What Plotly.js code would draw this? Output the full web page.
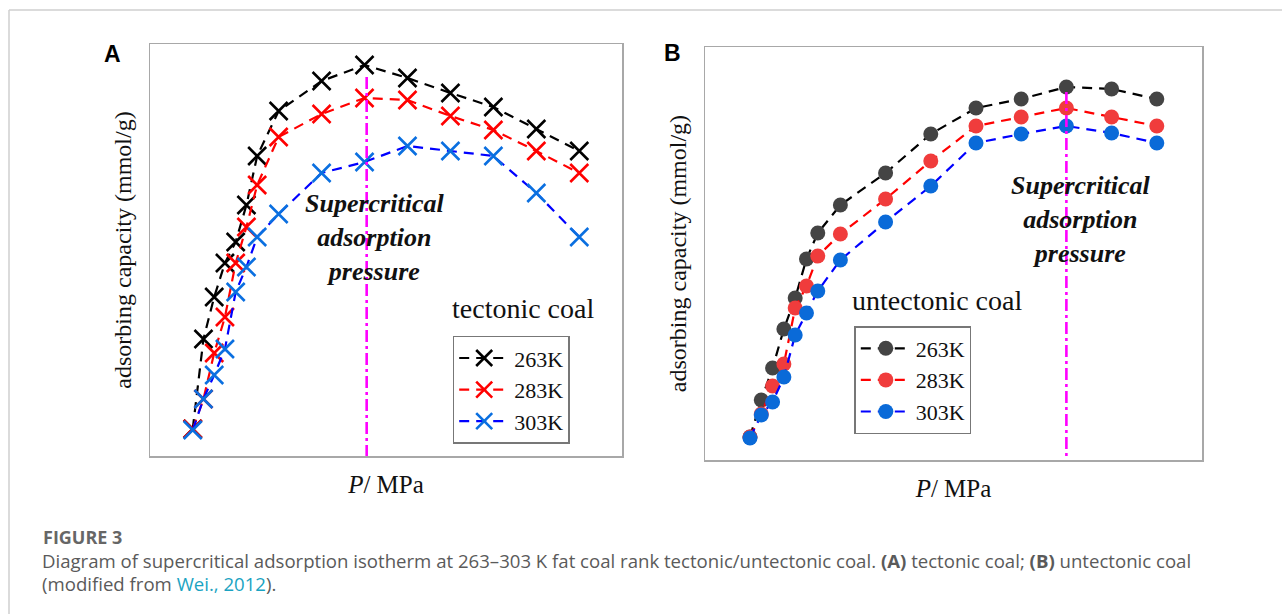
<!DOCTYPE html>
<html>
<head>
<meta charset="utf-8">
<script src="https://cdn.plot.ly/plotly-3.0.1.min.js"></script>
<style>html,body{margin:0;padding:0;background:#fff;}#chart{width:1282px;height:614px;}</style>
</head>
<body>
<div id="chart"></div>
<script>
// Pressure (MPa)
const pressure = [0.5, 1, 1.5, 2, 2.5, 3, 3.5, 4.5, 6.5, 8.5, 10.5, 12.5, 14.5, 16.5, 18.5];
const seriesNames = ['263K', '283K', '303K'];
// (A) tectonic coal, adsorbing capacity (mmol/g)
const tectonic263 = [0.27, 1.17, 1.59, 1.93, 2.14, 2.51, 3.00, 3.45, 3.75, 3.91, 3.78, 3.63, 3.49, 3.27, 3.05];
const tectonic283 = [0.27, 0.57, 1.03, 1.39, 1.93, 2.29, 2.71, 3.19, 3.42, 3.58, 3.56, 3.40, 3.26, 3.05, 2.83];
const tectonic303 = [0.26, 0.57, 0.81, 1.07, 1.64, 1.89, 2.19, 2.42, 2.83, 2.94, 3.10, 3.05, 3.00, 2.63, 2.19];
// (B) untectonic coal
const untectonic263 = [0.23, 0.60, 0.92, 1.31, 1.62, 2.01, 2.27, 2.55, 2.87, 3.26, 3.52, 3.61, 3.73, 3.71, 3.61];
const untectonic283 = [0.23, 0.46, 0.74, 0.96, 1.52, 1.74, 2.04, 2.26, 2.61, 2.99, 3.34, 3.43, 3.52, 3.43, 3.34];
const untectonic303 = [0.22, 0.45, 0.58, 0.83, 1.25, 1.47, 1.69, 2.00, 2.38, 2.74, 3.17, 3.26, 3.34, 3.27, 3.17];
// supercritical adsorption pressure (MPa) and vertical extent of marker line
const supercriticalA = 8.6, supercriticalATop = 3.79;
const supercriticalB = 14.5, supercriticalBTop = 3.68;

const W = 1282, H = 614;
const px = v => v / W, py = v => 1 - v / H;
const serif = 'Liberation Serif, Times New Roman, serif';
const dashPat = '10px,7px';

const lineColors = ['#000000', '#ff0000', '#0000ff'];
const xColors = ['#000000', '#ff0000', '#0a6fe0'];
const dotColors = ['#444444', '#f03c3c', '#0a6ad8'];

const traces = [];
const aData = [tectonic263, tectonic283, tectonic303];
const bData = [untectonic263, untectonic283, untectonic303];
aData.forEach((ys, i) => {
  traces.push({
    x: pressure, y: ys, xaxis: 'x', yaxis: 'y', type: 'scatter', mode: 'lines+markers',
    name: seriesNames[i], legend: 'legend',
    line: {color: lineColors[i], width: 2.2, dash: dashPat},
    marker: {symbol: 'x-thin-open', size: 18, color: xColors[i], line: {color: xColors[i], width: 2.6}}
  });
});
bData.forEach((ys, i) => {
  traces.push({
    x: pressure, y: ys, xaxis: 'x2', yaxis: 'y2', type: 'scatter', mode: 'lines+markers',
    name: seriesNames[i], legend: 'legend2',
    line: {color: lineColors[i], width: 2.2, dash: dashPat},
    marker: {symbol: 'circle', size: 15, color: dotColors[i], line: {width: 0}}
  });
});
traces.push({x: [supercriticalA, supercriticalA], y: [supercriticalATop, 0], xaxis: 'x', yaxis: 'y',
  mode: 'lines', showlegend: false, line: {color: '#ff00ff', width: 2.6, dash: '12px,4px,3px,4px'}});
traces.push({x: [supercriticalB, supercriticalB], y: [supercriticalBTop, 0], xaxis: 'x2', yaxis: 'y2',
  mode: 'lines', showlegend: false, line: {color: '#ff00ff', width: 2.6, dash: '12px,4px,3px,4px'}});

const axBase = {showline: true, mirror: true, linecolor: '#a8a8a8', linewidth: 1.5, showgrid: false,
  zeroline: false, showticklabels: false, ticks: '', fixedrange: true};
const xTitle = {text: '<i>P</i>/ MPa', font: {family: serif, size: 25, color: '#111'}, standoff: 19};
const yTitle = {text: 'adsorbing capacity (mmol/g)', font: {family: serif, size: 24, color: '#111'}, standoff: 10};

const legBase = {bgcolor: '#ffffff', bordercolor: '#777', borderwidth: 1.5, xanchor: 'left', yanchor: 'top',
  font: {family: serif, size: 22, color: '#111'}, itemwidth: 50, tracegroupgap: 0};

const annBase = {xref: 'paper', yref: 'paper', showarrow: false, xanchor: 'center', yanchor: 'middle'};
const superText = '<b><i>Supercritical</i></b><br><b><i>adsorption</i></b><br><b><i>pressure</i></b>';
const capFont = 'Open Sans, Noto Sans, sans-serif';

const layout = {
  width: W, height: H, margin: {l: 0, r: 0, t: 0, b: 0}, paper_bgcolor: '#fff', plot_bgcolor: '#fff',
  showlegend: true,
  xaxis: Object.assign({}, axBase, {domain: [px(150), px(622)], range: [-1.49, 20.49], title: xTitle, anchor: 'y'}),
  yaxis: Object.assign({}, axBase, {domain: [py(456), py(44)], range: [0, 4.12], title: yTitle, anchor: 'x'}),
  xaxis2: Object.assign({}, axBase, {domain: [px(705), px(1202)], range: [-1.49, 20.5], title: xTitle, anchor: 'y2'}),
  yaxis2: Object.assign({}, axBase, {domain: [py(460), py(47)], range: [0, 4.13], title: yTitle, anchor: 'x2'}),
  legend: Object.assign({}, legBase, {x: px(452.7), y: py(335.7)}),
  legend2: Object.assign({}, legBase, {x: px(854.3), y: py(326)}),
  annotations: [
    Object.assign({}, annBase, {x: px(112.5), y: py(54), text: '<b>A</b>', font: {family: 'Liberation Sans, Arial, sans-serif', size: 23, color: '#000'}}),
    Object.assign({}, annBase, {x: px(672), y: py(53), text: '<b>B</b>', font: {family: 'Liberation Sans, Arial, sans-serif', size: 23, color: '#000'}}),
    Object.assign({}, annBase, {x: px(374.5), y: py(237.7), text: superText, font: {family: serif, size: 26, color: '#111'}}),
    Object.assign({}, annBase, {x: px(1080.5), y: py(219.7), text: superText, font: {family: serif, size: 26, color: '#111'}}),
    Object.assign({}, annBase, {x: px(523), y: py(308), text: 'tectonic coal', font: {family: serif, size: 28, color: '#111'}}),
    Object.assign({}, annBase, {x: px(936.7), y: py(300), text: 'untectonic coal', font: {family: serif, size: 28, color: '#111'}}),
    Object.assign({}, annBase, {x: px(41), y: py(537), xanchor: 'left', text: '<b>FIGURE 3</b>', font: {family: capFont, size: 18, color: '#666'}}),
    Object.assign({}, annBase, {x: px(40), y: py(560), xanchor: 'left',
      text: 'Diagram of supercritical adsorption isotherm at 263–303 K fat coal rank tectonic/untectonic coal. <b>(A)</b> tectonic coal; <b>(B)</b> untectonic coal',
      font: {family: capFont, size: 18.6, color: '#5a5a5a'}}),
    Object.assign({}, annBase, {x: px(40), y: py(583), xanchor: 'left',
      text: '(modified from <span style="color:#1aa3c2">Wei., 2012</span>).',
      font: {family: capFont, size: 18.6, color: '#5a5a5a'}})
  ],
  shapes: [
    {type: 'line', xref: 'paper', yref: 'paper', x0: px(9), x1: 1, y0: py(10), y1: py(10), line: {color: '#cfcfcf', width: 1.5}},
    {type: 'line', xref: 'paper', yref: 'paper', x0: px(9), x1: px(9), y0: py(10), y1: 0, line: {color: '#cfcfcf', width: 1.5}}
  ]
};

Plotly.newPlot('chart', traces, layout, {displayModeBar: false, staticPlot: true});
</script>
</body>
</html>
